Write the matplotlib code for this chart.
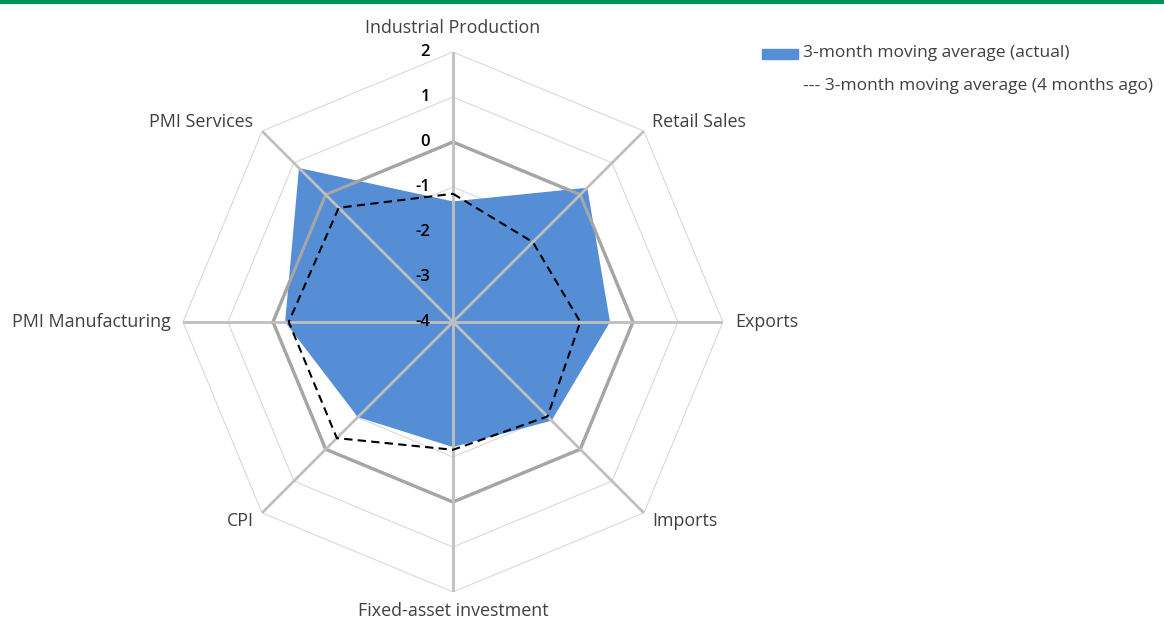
import numpy as np
import matplotlib.pyplot as plt
from matplotlib.lines import Line2D

plt.rcParams['font.family'] = ['Open Sans', 'DejaVu Sans']

categories = ["Industrial Production", "Retail Sales", "Exports", "Imports",
              "Fixed-asset investment", "CPI", "PMI Manufacturing", "PMI Services"]
actual = [-1.32, 0.22, -0.51, -0.90, -1.22, -1.01, -0.27, 0.84]
months_ago = [-1.15, -1.49, -1.17, -1.03, -1.16, -0.35, -0.35, -0.41]
ticks = [-4, -3, -2, -1, 0, 1, 2]

n = len(categories)
theta = np.arange(n) * 2 * np.pi / n
theta_c = np.append(theta, theta[0])


def close(v):
    return np.append(v, v[0])


fig = plt.figure(figsize=(11.64, 6.21), dpi=100)
# green rule across the top
fig.add_artist(Line2D([0, 1], [0.9975, 0.9975], color="#00915A", lw=3))

ax = fig.add_axes([0.1572, 0.0467, 0.4639, 0.8696], projection="polar")
ax.set_theta_zero_location("N")
ax.set_theta_direction(-1)
ax.set_ylim(-4, 2)
ax.grid(False)
ax.spines["polar"].set_visible(False)
ax.set_xticks([])
ax.set_yticks([])

# polygon rings
for t in ticks:
    if t == 0:
        ax.plot(theta_c, [t] * (n + 1), color="#A6A6A6", lw=2.2, zorder=1)
    else:
        ax.plot(theta_c, [t] * (n + 1), color="#D9D9D9", lw=0.8, zorder=1)

ax.fill(theta_c, close(actual), color="#558ED5", lw=0, zorder=2)
ax.plot(theta_c, close(months_ago), color="black", lw=1.5, ls=(0, (4, 2.5)), zorder=4)

# ring at 0 drawn again on top of the fill, plus spokes
ax.plot(theta_c, [0] * (n + 1), color="#A6A6A6", lw=2.2, zorder=3)
for th in theta:
    ax.plot([th, th], [-4, 2], color="#BFBFBF", lw=2, zorder=3)

for t in ticks:
    ax.annotate(str(t), xy=(0, t), xytext=(-23, 0), textcoords="offset pixels",
                ha="right", va="center", fontsize=12, fontweight="semibold",
                color="black", zorder=5)

label_r = [2.53, 2.27, 2.27, 2.27, 2.42, 2.27, 2.27, 2.27]
label_ha = ["center", "left", "left", "left", "center", "right", "right", "right"]
for th, cat, r, ha in zip(theta, categories, label_r, label_ha):
    ax.text(th, r, cat, ha=ha, va="center", fontsize=12.9, color="#404040")

# legend
fig.add_artist(plt.Rectangle((762 / 1164, 1 - 59 / 621), 36 / 1164, 10 / 621,
                             color="#558ED5", transform=fig.transFigure))
fig.text(803 / 1164, 1 - 53 / 621, "3-month moving average (actual)",
         ha="left", va="center", fontsize=12.5, color="#404040")
fig.text(803 / 1164, 1 - 86 / 621, "--- 3-month moving average (4 months ago)",
         ha="left", va="center", fontsize=12.5, color="#404040")

fig.savefig("out.png", dpi=100)
